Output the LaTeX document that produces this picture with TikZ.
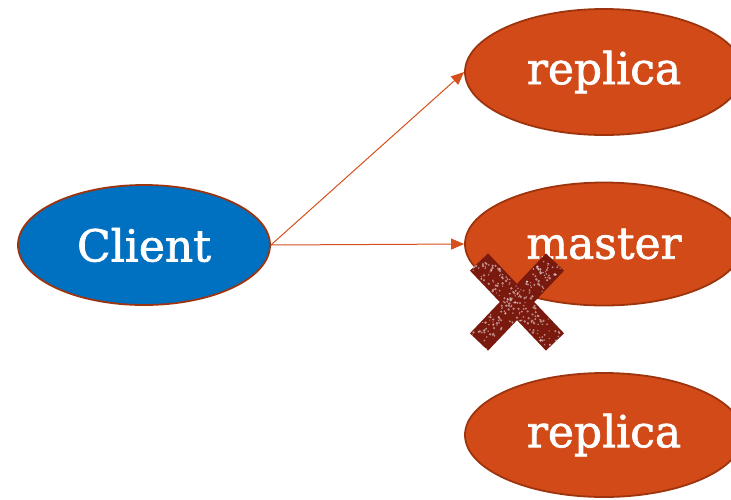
\documentclass[tikz,border=0pt]{standalone}
\usepackage{fontspec}
\setmainfont{DejaVu Serif}
\newfontfamily\ovalfont{DejaVu Serif}[BoldFont=DejaVu Serif, BoldFeatures={FakeBold=1.6}]
\usetikzlibrary{arrows.meta,shapes.geometric}
\definecolor{clientblue}{HTML}{0070C0}
\definecolor{nodeorange}{HTML}{D14A17}
\definecolor{rimbrown}{HTML}{9E340E}
\definecolor{arroworange}{HTML}{D4501C}
\definecolor{crossred}{HTML}{7A1A0E}
\tikzset{
  oval/.style={ellipse, draw=rimbrown, line width=1.8pt, text=white,
    font=\ovalfont\bfseries\fontsize{44}{44}\selectfont, inner sep=0pt},
  link/.style={draw=arroworange, line width=1pt,
    -{Triangle[length=13pt,width=11pt]}},
  crossbar/.style={draw=crossred, line width=25pt, line cap=butt}
}
\begin{document}
\begin{tikzpicture}[x=1pt,y=-1pt]
  \useasboundingbox (0,0) rectangle (731,499);
  \clip (0,0) rectangle (731,499);
  % nodes
  \node[oval, fill=clientblue, minimum width=252pt, minimum height=120pt] (client) at (144,245) {Client};
  \node[oval, fill=nodeorange, minimum width=278pt, minimum height=126pt] (rtop) at (604,72) {replica};
  \node[oval, fill=nodeorange, minimum width=278pt, minimum height=123pt] (master) at (604,244) {master};
  \node[oval, fill=nodeorange, minimum width=278pt, minimum height=124pt] (rbot) at (604,435) {replica};
  % connectors
  \draw[link] (client.east) -- (rtop.west);
  \draw[link] (client.east) -- (master.west);
  % failure cross over the master
  \coordinate (xa) at (479,262);
  \coordinate (xb) at (555,342);
  \coordinate (xc) at (555,262);
  \coordinate (xd) at (479,342);
  \draw[crossbar] (xa) -- (xb);
  \draw[crossbar] (xc) -- (xd);
  % worn speckles on the cross
  \pgfmathsetseed{7}
  \foreach \i in {1,...,130}{
    \pgfmathsetmacro{\t}{rnd}
    \pgfmathsetmacro{\s}{rnd*22-11}
    \pgfmathsetmacro{\r}{0.6+rnd*0.8}
    \pgfmathsetmacro{\px}{479+76*\t+\s*0.72}
    \pgfmathsetmacro{\py}{262+80*\t-\s*0.69}
    \fill[white, opacity=0.5] (\px,\py) circle (\r pt);
  }
  \foreach \i in {1,...,130}{
    \pgfmathsetmacro{\t}{rnd}
    \pgfmathsetmacro{\s}{rnd*22-11}
    \pgfmathsetmacro{\r}{0.6+rnd*0.8}
    \pgfmathsetmacro{\px}{555-76*\t+\s*0.72}
    \pgfmathsetmacro{\py}{262+80*\t+\s*0.69}
    \fill[white, opacity=0.5] (\px,\py) circle (\r pt);
  }
\end{tikzpicture}
\end{document}
